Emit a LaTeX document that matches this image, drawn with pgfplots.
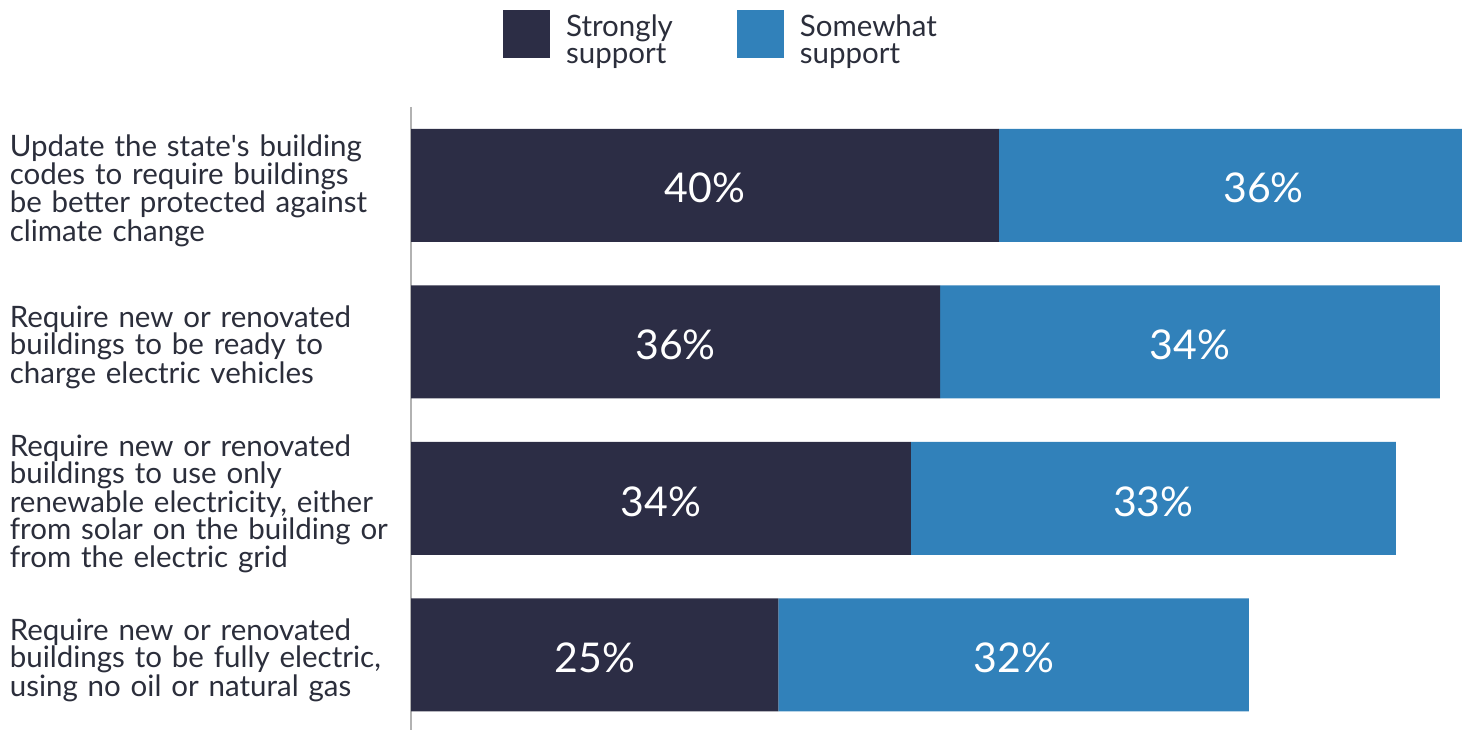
\documentclass[border=0pt]{standalone}
\usepackage{fontspec}
\setmainfont{Lato}
\usepackage{pgfplots}
\usepackage{pgfplotstable}
\pgfplotsset{compat=1.18}
\definecolor{strongc}{HTML}{2C2D45}
\definecolor{somec}{HTML}{3181BA}
\definecolor{txt}{HTML}{2B2E3B}
\pgfplotstableread{
cat strong some
0 40 36
1 36 34
2 34 33
3 25 32
}\data
\begin{document}
\begin{tikzpicture}[x=1pt,y=1pt]
\useasboundingbox (0,0) rectangle (1469,730);
\begin{axis}[
  at={(411pt,0pt)}, anchor=south west,
  scale only axis, width=1051pt, height=623pt,
  xbar stacked, bar width=113pt,
  xmin=0, xmax=71.5,
  ymin=-0.5, ymax=3.48, y dir=reverse,
  axis x line=none,
  axis y line=left,
  y axis line style={-, draw=black!30, line width=1.5pt},
  ytick={0,1,2,3},
  yticklabels={
    {Update the state\textquotesingle s building\\codes to require buildings\\be better protected against\\climate change},
    {Require new or renovated\\buildings to be ready to\\charge electric vehicles},
    {Require new or renovated\\buildings to use only\\renewable electricity, either\\from solar on the building or\\from the electric grid},
    {Require new or renovated\\buildings to be fully electric,\\using no oil or natural gas}},
  major tick length=0pt,
  yticklabel style={text width=401pt, align=left, inner sep=0pt, anchor=east,
    yshift=-5.5pt, font=\fontsize{29.5}{27}\selectfont, text=txt},
  legend columns=2,
  legend image code/.code={\draw[#1, draw=none] (0pt,-18pt) rectangle (47pt,30pt);},
  legend style={at={(0.0875,1.1557)}, anchor=north west, draw=none, fill=none,
    inner sep=0pt,
    nodes={align=left, font=\fontsize{29.5}{27}\selectfont, text=txt},
    /tikz/every odd column/.append style={column sep=14pt},
    /tikz/every even column/.append style={column sep=62pt}},
  legend cell align=left,
]
\addplot[fill=strongc, draw=none] table[x=strong, y=cat]{\data};
\addlegendentry{Strongly\\support}
\addplot[fill=somec, draw=none] table[x=some, y=cat]{\data};
\addlegendentry{Somewhat\\support}
\end{axis}
\begin{axis}[
  at={(411pt,0pt)}, anchor=south west,
  scale only axis, width=1051pt, height=623pt,
  xmin=0, xmax=71.5,
  ymin=-0.5, ymax=3.48, y dir=reverse,
  hide axis, clip=false,
  /pgf/number format/assume math mode=true,
  nodes near coords={\pgfmathprintnumber{\pgfplotspointmeta}\%},
  point meta=explicit,
  nodes near coords style={anchor=center, inner sep=0pt, text=white,
    yshift=-3pt, font=\fontsize{41}{41}\selectfont},
]
\addplot[draw=none, mark=none] table[x expr=\thisrow{strong}/2, y=cat, meta=strong]{\data};
\addplot[draw=none, mark=none] table[x expr=\thisrow{strong}+\thisrow{some}/2, y=cat, meta=some]{\data};
\end{axis}
\end{tikzpicture}
\end{document}
